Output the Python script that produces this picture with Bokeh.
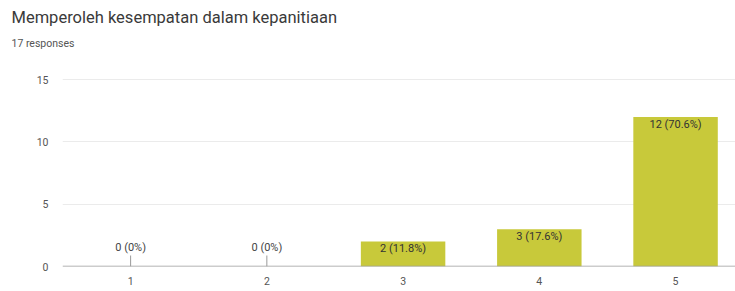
import numpy as np
from bokeh.plotting import figure
from bokeh.models import ColumnDataSource, FixedTicker, Range1d, Title
from bokeh.core.properties import value
from bokeh.embed import file_html
from bokeh.resources import INLINE

title_text = "Memperoleh kesempatan dalam kepanitiaan"
subtitle_text = "17 responses"
categories = [1, 2, 3, 4, 5]
counts = [0, 0, 2, 3, 12]
labels = ["0 (0%)", "0 (0%)", "2 (11.8%)", "3 (17.6%)", "12 (70.6%)"]
y_ticks = [0, 5, 10, 15]

FONT = "Roboto"
BAR = "#c8c93a"
W, H = 735, 291
LEFT = 62

p = figure(width=W, height=H, output_backend="svg", toolbar_location=None,
           x_range=Range1d(0.5, 5.44), y_range=Range1d(0, 17.18),
           min_border_left=LEFT, min_border_right=0, min_border_bottom=25,
           min_border_top=0)
p.title.visible = False

sub = Title(text=subtitle_text, align="left", offset=-51,
            text_font=FONT, text_font_size="10.5px", text_font_style="normal",
            text_color="#555555", standoff=6)
main = Title(text=title_text, align="left", offset=-51,
             text_font=FONT, text_font_size="16.5px", text_font_style="normal",
             text_color="#3a3a3a", standoff=10)
p.add_layout(sub, "above")
p.add_layout(main, "above")

p.outline_line_color = None
p.background_fill_color = "white"
p.border_fill_color = "white"

src = ColumnDataSource(dict(x=categories, y=counts, label=labels))
nz = ColumnDataSource(dict(x=[c for c, v in zip(categories, counts) if v > 0],
                           y=[v for v in counts if v > 0],
                           label=[l for l, v in zip(labels, counts) if v > 0]))
zz = ColumnDataSource(dict(x=[c for c, v in zip(categories, counts) if v == 0],
                           y=[v for v in counts if v == 0],
                           label=[l for l, v in zip(labels, counts) if v == 0]))

p.vbar(x="x", top="y", width=0.62, bottom=0, source=src, fill_color=BAR, line_color=None)

# baseline
p.ray(x=[0.5], y=[0], length=0, angle=0, line_color="#9a9a9a", line_width=1.5)

p.text(x="x", y="y", text="label", source=nz, text_align="center",
       text_baseline="middle", y_offset=7, text_font=value(FONT),
       text_font_size="11px", text_color="#333333")
p.text(x="x", y="y", text="label", source=zz, text_align="center",
       text_baseline="middle", y_offset=-19, text_font=value(FONT),
       text_font_size="11px", text_color="#444444")
p.ray(x="x", y="y", source=zz, length=11, length_units="screen", angle=np.pi / 2,
      line_color="#999999", line_width=1)

p.xaxis.ticker = FixedTicker(ticks=categories)
p.yaxis.ticker = FixedTicker(ticks=y_ticks)
for ax in (p.xaxis, p.yaxis):
    ax.axis_line_color = None
    ax.major_tick_line_color = None
    ax.minor_tick_line_color = None
    ax.major_tick_out = 0
    ax.major_tick_in = 0
    ax.minor_tick_out = 0
    ax.major_label_text_font = FONT
    ax.major_label_text_font_size = "10.5px"
    ax.major_label_text_color = "#555555"
p.xaxis.major_label_standoff = 10
p.yaxis.major_label_standoff = 14

p.xgrid.grid_line_color = None
p.ygrid.grid_line_color = "#ebebeb"
p.ygrid.ticker = FixedTicker(ticks=y_ticks[1:])

open("out.html", "w").write(file_html(p, INLINE))
